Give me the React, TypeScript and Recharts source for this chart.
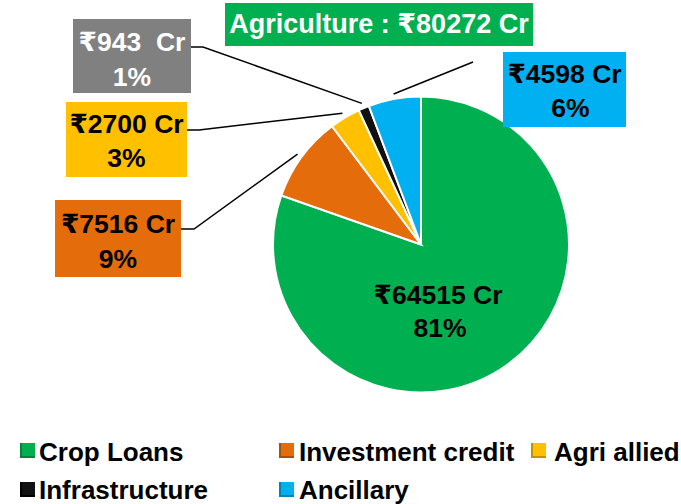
import React from 'react';
import { PieChart, Pie, Cell, Legend } from 'recharts';

const categories = ['Crop Loans', 'Investment credit', 'Agri allied', 'Infrastructure', 'Ancillary'];
const amounts = [64515, 7516, 2700, 943, 4598];
const amountLabels = ['₹64515 Cr', '₹7516 Cr', '₹2700 Cr', '₹943  Cr', '₹4598 Cr'];
const percentLabels = ['81%', '9%', '3%', '1%', '6%'];
const totalLabel = 'Agriculture : ₹80272 Cr';

const colors = ['#00B050', '#E46C0A', '#FFC000', '#111111', '#00B0F0'];
const shadowColors = ['#00843C', '#A94F07', '#C29200', '#000000', '#0084B4'];
const boxColors = ['none', '#E46C0A', '#FFC000', '#808080', '#00B0F0'];
const textColors = ['#000', '#000', '#000', '#fff', '#000'];

const data = categories.map((name, i) => ({ name, value: amounts[i] }));

const FONT = '"Liberation Sans", Arial, "DejaVu Sans", sans-serif';

// label box layout (x, y, w, h), leader anchor
const boxes = [
  null,
  { x: 55, y: 200, w: 126, h: 77, b1: 233, b2: 268, ax: 194, ay: 229, elbow: true },
  { x: 66, y: 102, w: 121, h: 75, b1: 133, b2: 167, ax: 199, ay: 130, elbow: true },
  { x: 73, y: 19, w: 118, h: 74, b1: 51, b2: 86, ax: 203, ay: 47, elbow: true },
  { x: 503, y: 52, w: 123, h: 75, b1: 83, b2: 117, ax: 473, ay: 62, elbow: false },
];

const RAD = Math.PI / 180;

const renderLabel = (props: any) => {
  const { cx, cy, midAngle, outerRadius, index } = props;
  if (index === 0) {
    return (
      <g key="lbl0">
        <text x={cx + 17} y={cy + 59.5} textAnchor="middle" fontFamily={FONT} fontWeight="bold" fontSize={26.5} fill="#000">
          {amountLabels[0]}
        </text>
        <text x={cx + 19} y={cy + 92.5} textAnchor="middle" fontFamily={FONT} fontWeight="bold" fontSize={26.5} fill="#000">
          {percentLabels[0]}
        </text>
      </g>
    );
  }
  const b = boxes[index]!;
  const r = outerRadius + 5;
  const px = cx + r * Math.cos(-midAngle * RAD);
  const py = cy + r * Math.sin(-midAngle * RAD);
  const pts = b.elbow
    ? `${b.x + b.w},${b.ay} ${b.ax},${b.ay} ${px},${py}`
    : `${px},${py} ${b.ax},${b.ay}`;
  const tx = b.x + b.w / 2;
  return (
    <g key={`lbl${index}`}>
      <polyline points={pts} fill="none" stroke="#000" strokeWidth={1.5} />
      <rect x={b.x} y={b.y} width={b.w} height={b.h} fill={boxColors[index]} />
      <text x={tx} y={b.b1} textAnchor="middle" fontFamily={FONT} fontWeight="bold" fontSize={26.5} fill={textColors[index]} style={{ whiteSpace: 'pre' }}>
        {amountLabels[index]}
      </text>
      <text x={index === 4 ? tx + 6 : tx} y={b.b2} textAnchor="middle" fontFamily={FONT} fontWeight="bold" fontSize={26.5} fill={textColors[index]}>
        {percentLabels[index]}
      </text>
    </g>
  );
};

const legendPos = [
  { x: 20, y: 13, tx: 39, tb: 31 },
  { x: 279, y: 13, tx: 299, tb: 31 },
  { x: 531, y: 13, tx: 554, tb: 31 },
  { x: 20, y: 52, tx: 39, tb: 69 },
  { x: 279, y: 52, tx: 299, tb: 69 },
];

const renderLegend = () => (
  <svg width={681} height={74} style={{ display: 'block', overflow: 'visible' }}>
    {categories.map((c, i) => {
      const p = legendPos[i];
      return (
        <g key={c}>
          <rect x={p.x} y={p.y} width={15} height={15} fill={shadowColors[i]} />
          <rect x={p.x + 2} y={p.y} width={13} height={13} fill={colors[i]} />
          <text x={p.tx} y={p.tb} fontFamily={FONT} fontWeight="bold" fontSize={26} fill="#000">
            {c}
          </text>
        </g>
      );
    })}
  </svg>
);

export default function App() {
  return (
    <div style={{ position: 'absolute', left: 0, top: 0, width: 681, height: 504, background: '#fff', overflow: 'hidden' }}>
      <div
        style={{
          position: 'absolute',
          left: 225,
          top: 3,
          width: 308,
          height: 43,
          background: '#00B050',
          color: '#fff',
          fontFamily: FONT,
          fontWeight: 'bold',
          fontSize: 27,
          lineHeight: '43px',
          textAlign: 'center',
          whiteSpace: 'nowrap',
        }}
      >
        {totalLabel}
      </div>
      <PieChart width={681} height={504} margin={{ top: 0, right: 0, bottom: 0, left: 0 }}>
        <Pie
          data={data}
          dataKey="value"
          nameKey="name"
          cx={421}
          cy={244.5}
          outerRadius={148}
          startAngle={90}
          endAngle={-270}
          stroke="#fff"
          strokeWidth={2}
          isAnimationActive={false}
          labelLine={false}
          label={renderLabel}
        >
          {data.map((d, i) => (
            <Cell key={d.name} fill={colors[i]} />
          ))}
        </Pie>
        <Legend
          content={renderLegend}
          verticalAlign="bottom"
          wrapperStyle={{ position: 'absolute', left: 0, top: 430, width: 681, height: 74 }}
        />
      </PieChart>
    </div>
  );
}
